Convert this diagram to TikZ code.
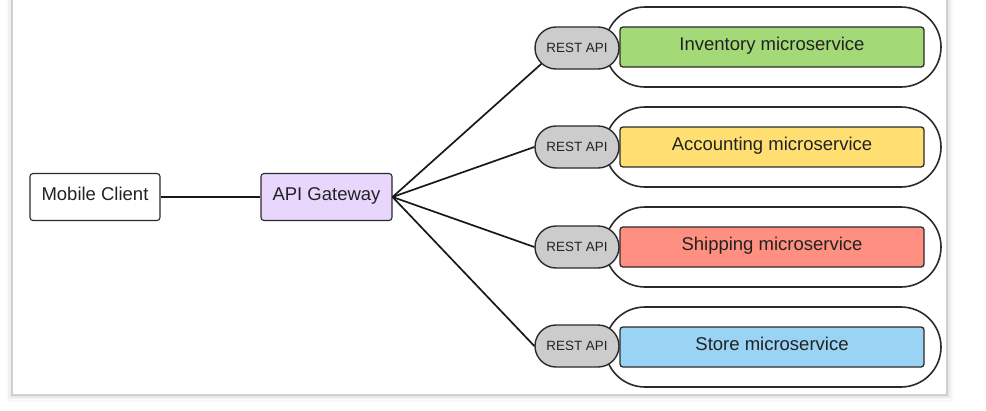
\documentclass[tikz,border=0pt]{standalone}
\usepackage{fontspec}
\setmainfont{Liberation Sans}
\usetikzlibrary{shapes.misc}
\definecolor{panelborder}{HTML}{D0D0D0}
\definecolor{edgecol}{HTML}{2A2A2A}
\definecolor{txtcol}{HTML}{222222}
\definecolor{gwfill}{HTML}{E8D6FC}
\definecolor{restfill}{HTML}{CCCCCC}
\definecolor{invfill}{HTML}{A3D977}
\definecolor{accfill}{HTML}{FFDF71}
\definecolor{shipfill}{HTML}{FF8F80}
\definecolor{storefill}{HTML}{9AD3F4}
\begin{document}
\begin{tikzpicture}[x=1pt,y=-1pt,
  box/.style={draw=edgecol, line width=1.1pt, rounded corners=3pt, minimum width=130pt,
    minimum height=47pt, inner sep=0pt, font=\fontsize{18.5}{20}\selectfont, text=txtcol,
    text height=13pt, text depth=6pt},
  container/.style={draw=edgecol, line width=1.6pt, fill=white, rounded rectangle,
    minimum width=336pt, minimum height=80pt, inner sep=0pt},
  svc/.style={draw=edgecol, line width=1.3pt, rounded corners=3pt, minimum width=304pt,
    minimum height=40pt, inner sep=0pt, font=\fontsize{18.5}{20}\selectfont, text=txtcol,
    text height=13pt, text depth=7pt},
  restapi/.style={draw=edgecol, line width=1.4pt, fill=restfill, rounded rectangle,
    minimum width=84pt, minimum height=42pt, inner sep=0pt,
    font=\fontsize{13.4}{15}\selectfont, text=txtcol},
  link/.style={draw=black!90, line width=1.7pt}
]
\useasboundingbox (0,0) rectangle (986,410);
% panel shadow
\foreach \i/\o in {1/0.10,2/0.07,3/0.05,4/0.035,5/0.02,6/0.01}{
  \draw[black, opacity=\o, line width=1pt] (12-\i*0.8,-5) rectangle (947+\i,395+\i*1.3);
}
\draw[draw=panelborder, line width=1.3pt, fill=white] (12,-5) rectangle (947,395);

% left nodes
\node[box, fill=white] (mc) at (95,197) {Mobile Client};
\node[box, fill=gwfill, minimum width=131pt] (gw) at (326.5,197) {API Gateway};

% containers
\node[container] (c1) at (773,47) {};
\node[container] (c2) at (773,147) {};
\node[container] (c3) at (773,247) {};
\node[container] (c4) at (773,347) {};

% services
\node[svc, fill=invfill] (s1) at (772,47) {Inventory microservice};
\node[svc, fill=accfill] (s2) at (772,147) {Accounting microservice};
\node[svc, fill=shipfill] (s3) at (772,247) {Shipping microservice};
\node[svc, fill=storefill] (s4) at (772,347) {Store microservice};

% REST API pills
\node[restapi] (r1) at (577,48) {REST API};
\node[restapi] (r2) at (577,147) {REST API};
\node[restapi] (r3) at (577,247) {REST API};
\node[restapi] (r4) at (577,346) {REST API};

% connectors
\draw[link] (mc.east) -- (gw.west);
\draw[link] (gw.east) -- (r1.204);
\draw[link] (gw.east) -- (r2.west);
\draw[link] (gw.east) -- (r3.west);
\draw[link] (gw.east) -- (r4.west);
\end{tikzpicture}
\end{document}
